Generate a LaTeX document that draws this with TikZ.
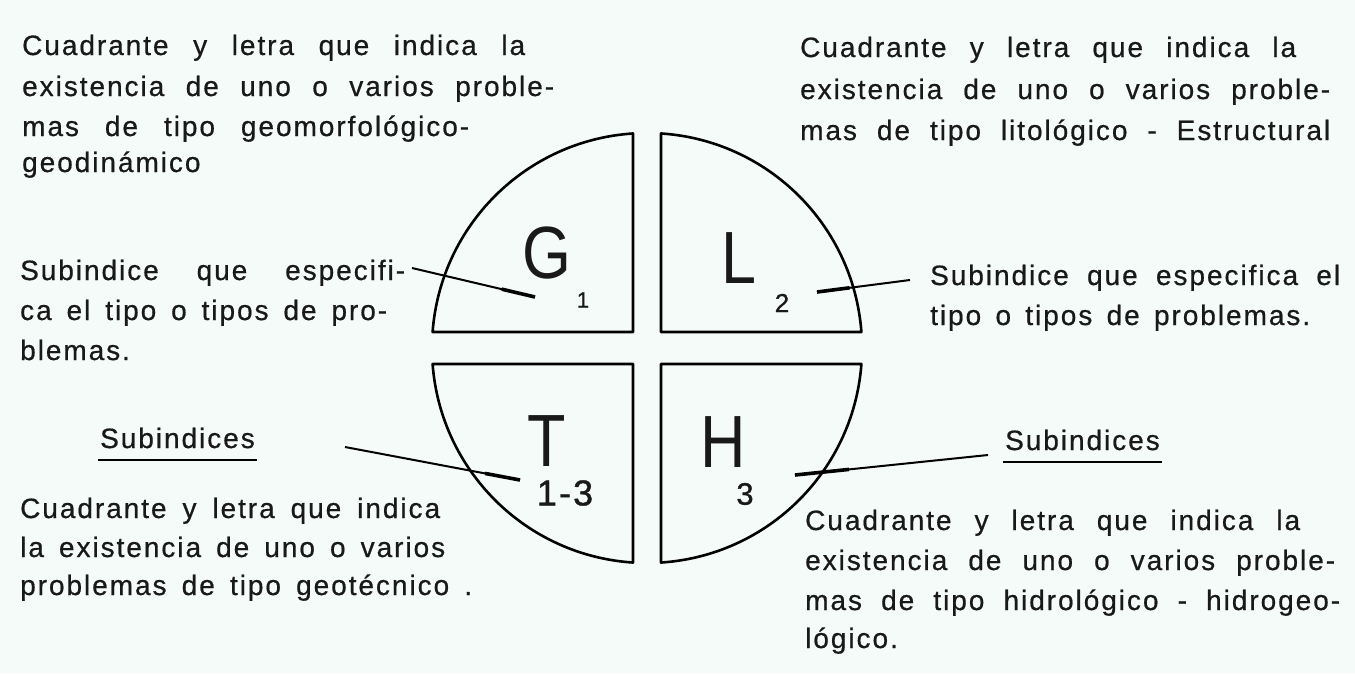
\documentclass[tikz,border=0pt]{standalone}
\usepackage{fontspec}
\usepackage{graphicx}
\usetikzlibrary{calc}
\setmainfont{Liberation Sans}[LetterSpace=7, FakeBold=0.6]
\newfontfamily\bigfont{Liberation Sans}
\newfontfamily\subfont{Liberation Sans}[LetterSpace=6, FakeBold=1]
\definecolor{bgcol}{RGB}{245,251,248}
\definecolor{ink}{RGB}{25,25,25}
\newcommand\stretchline[2]{\makebox[#1][s]{#2}}
\newcommand\narrowglyph[1]{\scalebox{0.85}[1]{#1}}
\tikzset{
  body/.style={anchor=base west, inner sep=0pt, text=ink, font=\fontsize{28}{32}\selectfont},
  bigletter/.style={inner sep=0pt, text=ink, font=\bigfont\fontsize{74}{80}\selectfont},
  subidx/.style={inner sep=0pt, text=ink},
  quad/.style={draw=black, line width=2.6pt, line join=round},
  lead/.style={draw=black, line width=2pt},
  leadheavy/.style={draw=black, line width=3.6pt},
  uline/.style={draw=black, line width=2pt},
}
\begin{document}
\begin{tikzpicture}[x=1pt,y=-1pt]
\path[use as bounding box, fill=bgcol] (0,0) rectangle (1355,673);

% quadrants
\draw[quad] (633,332) -- (432.6,332) arc[start angle=184.268, end angle=266.267, radius=215] -- cycle;
\draw[quad] (661,332) -- (661,133.46) arc[start angle=273.733, end angle=355.732, radius=215] -- cycle;
\draw[quad] (633,364) -- (432.6,364) arc[start angle=175.732, end angle=93.733, radius=215] -- cycle;
\draw[quad] (661,364) -- (861.4,364) arc[start angle=4.268, end angle=86.267, radius=215] -- cycle;

% letters
\node[bigletter] (G) at (547,253) {\narrowglyph{G}};
\node[bigletter] (L) at (739,258) {\narrowglyph{L}};
\node[bigletter] (T) at (547,441) {\narrowglyph{T}};
\node[bigletter] (H) at (723,442) {\narrowglyph{H}};
\node[subidx, font=\subfont\fontsize{22}{24}\selectfont] (g1) at (583,300) {1};
\node[subidx, font=\subfont\fontsize{26}{30}\selectfont] (l2) at (782,303) {2};
\node[subidx, font=\subfont\fontsize{36}{40}\selectfont] (t13) at (565,493) {1-3};
\node[subidx, font=\subfont\fontsize{31}{36}\selectfont] (h3) at (745,494) {3};

% top-left text
\node[body] (tl1) at (22,55) {\stretchline{503pt}{Cuadrante y letra que indica la}};
\node[body] (tl2) at (22,96) {\stretchline{532pt}{existencia de uno o varios proble-}};
\node[body] (tl3) at (22,136) {\stretchline{447pt}{mas de tipo geomorfológico-}};
\node[body] (tl4) at (22,172) {geodinámico};

% top-right text
\node[body] (tr1) at (800,57) {\stretchline{496pt}{Cuadrante y letra que indica la}};
\node[body] (tr2) at (800,99) {\stretchline{530pt}{existencia de uno o varios proble-}};
\node[body] (tr3) at (800,140) {\stretchline{530pt}{mas de tipo litológico - Estructural}};

% left middle text
\node[body] (lm1) at (20,280) {\stretchline{385pt}{Subindice que especifi-}};
\node[body] (lm2) at (20,320) {\stretchline{367pt}{ca el tipo o tipos de pro-}};
\node[body] (lm3) at (20,360) {blemas.};

% right middle text
\node[body] (rm1) at (930,285) {\stretchline{410pt}{Subindice que especifica el}};
\node[body] (rm2) at (930,325) {\stretchline{380pt}{tipo o tipos de problemas.}};

% bottom-left text
\node[body] (sbl) at (100,448) {Subindices};
\draw[uline] ([yshift=-12pt,xshift=-2pt]sbl.base west) -- ([yshift=-12pt,xshift=2pt]sbl.base east);
\node[body] (bl1) at (20,518) {\stretchline{420pt}{Cuadrante y letra que indica}};
\node[body] (bl2) at (20,557) {\stretchline{425pt}{la existencia de uno o varios}};
\node[body] (bl3) at (20,595) {\stretchline{452pt}{problemas de tipo geotécnico .}};

% bottom-right text
\node[body] (sbr) at (1005,450) {Subindices};
\draw[uline] ([yshift=-12pt,xshift=-2pt]sbr.base west) -- ([yshift=-12pt,xshift=2pt]sbr.base east);
\node[body] (br1) at (805,530) {\stretchline{495pt}{Cuadrante y letra que indica la}};
\node[body] (br2) at (805,570) {\stretchline{530pt}{existencia de uno o varios proble-}};
\node[body] (br3) at (805,610) {\stretchline{535pt}{mas de tipo hidrológico - hidrogeo-}};
\node[body] (br4) at (805,648) {lógico.};

% leader lines
\coordinate (gA) at (412,268);
\coordinate (gB) at (535,297);
\coordinate (lA) at (817,292);
\coordinate (lB) at (910,280);
\coordinate (tA) at (345,447);
\coordinate (tB) at (520,480);
\coordinate (hA) at (795,475);
\coordinate (hB) at (988,455);
\draw[lead] (gA) -- (gB);
\draw[lead] (lA) -- (lB);
\draw[lead] (tA) -- (tB);
\draw[lead] (hA) -- (hB);
\draw[leadheavy] ($(gB)!0.27!(gA)$) -- (gB);
\draw[leadheavy] (lA) -- ($(lA)!0.35!(lB)$);
\draw[leadheavy] ($(tB)!0.2!(tA)$) -- (tB);
\draw[leadheavy] (hA) -- ($(hA)!0.28!(hB)$);
\end{tikzpicture}
\end{document}
